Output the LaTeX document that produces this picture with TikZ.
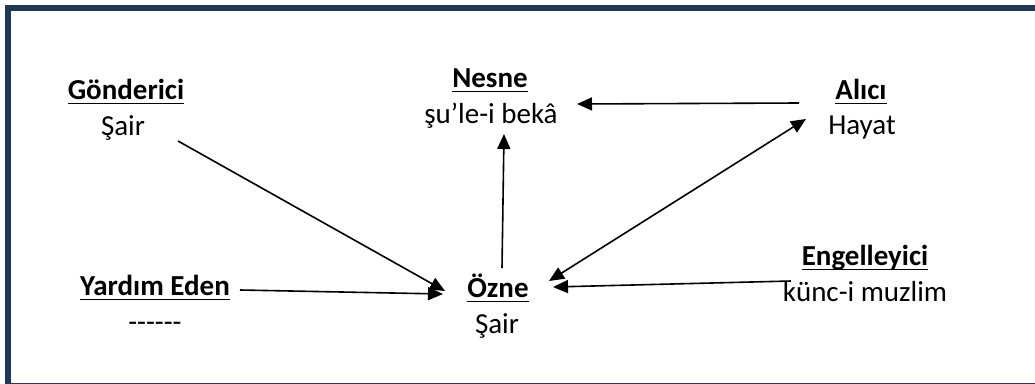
\documentclass[tikz,border=0pt]{standalone}
\usepackage{fontspec}
\setmainfont{Carlito}
\usetikzlibrary{arrows.meta,calc}
\definecolor{framecol}{RGB}{31,56,88}
\tikzset{
  lbl/.style={anchor=base, inner sep=0pt, outer sep=0pt, font=\fontsize{29}{34}\selectfont},
  head/.style={lbl, font=\fontsize{29}{34}\selectfont\bfseries},
  uline/.style={line width=1.8pt, black},
  conn/.style={line width=1.6pt, black, -{Triangle[length=15pt,width=13pt]}},
  conn2/.style={line width=1.6pt, black, {Triangle[length=15pt,width=13pt]}-{Triangle[length=15pt,width=13pt]}}
}
\begin{document}
\begin{tikzpicture}[x=1pt,y=-1pt]
\useasboundingbox (0,0) rectangle (1035,383);
\begin{scope}
\clip (0,0) rectangle (1035,383);
\draw[line width=6pt, framecol] (8,8) rectangle (1050,385.5);
\end{scope}
% labels
\node[head] (gh) at (126,99) {Gönderici};
\node[lbl]  (gs) at (123,135) {Şair};
\node[head] (nh) at (490,87) {Nesne};
\node[lbl]  (ns) at (491,123) {şu’le-i bekâ};
\node[head] (ah) at (861,99) {Alıcı};
\node[lbl]  (as) at (862,134) {Hayat};
\node[head] (yh) at (155,295) {Yardım Eden};
\node[lbl]  (ys) at (155,331) {-\kern0pt-\kern0pt-\kern0pt-\kern0pt-\kern0pt-};
\node[head] (oh) at (498,297) {Özne};
\node[lbl]  (os) at (497,333) {Şair};
\node[head] (eh) at (865,265) {Engelleyici};
\node[lbl]  (es) at (865,301) {künc-i muzlim};
% underlines
\foreach \n in {gh,nh,ah,yh,oh,eh}{
  \draw[uline] ($(\n.base west)+(0,4.5)$) -- ($(\n.base east)+(0,4.5)$);
}
% connectors
\draw[conn] ($(gs.base)+(55,6)$) -- ($(oh.base)+(-53,-6)$);
\draw[conn] ($(yh.base)+(85,-5)$) -- ($(oh.base)+(-55,-3)$);
\draw[conn] ($(oh.base)+(4,-29)$) -- ($(ns.base)+(13,11)$);
\draw[conn] ($(ah.base)+(-62,4)$) -- ($(ns.base)+(86,-19)$);
\draw[conn2] ($(oh.base)+(51,-16)$) -- ($(as.base)+(-56,-15)$);
\draw[conn] ($(eh.base)+(-74,16)$) -- ($(oh.base)+(55,-10)$);
\end{tikzpicture}
\end{document}
